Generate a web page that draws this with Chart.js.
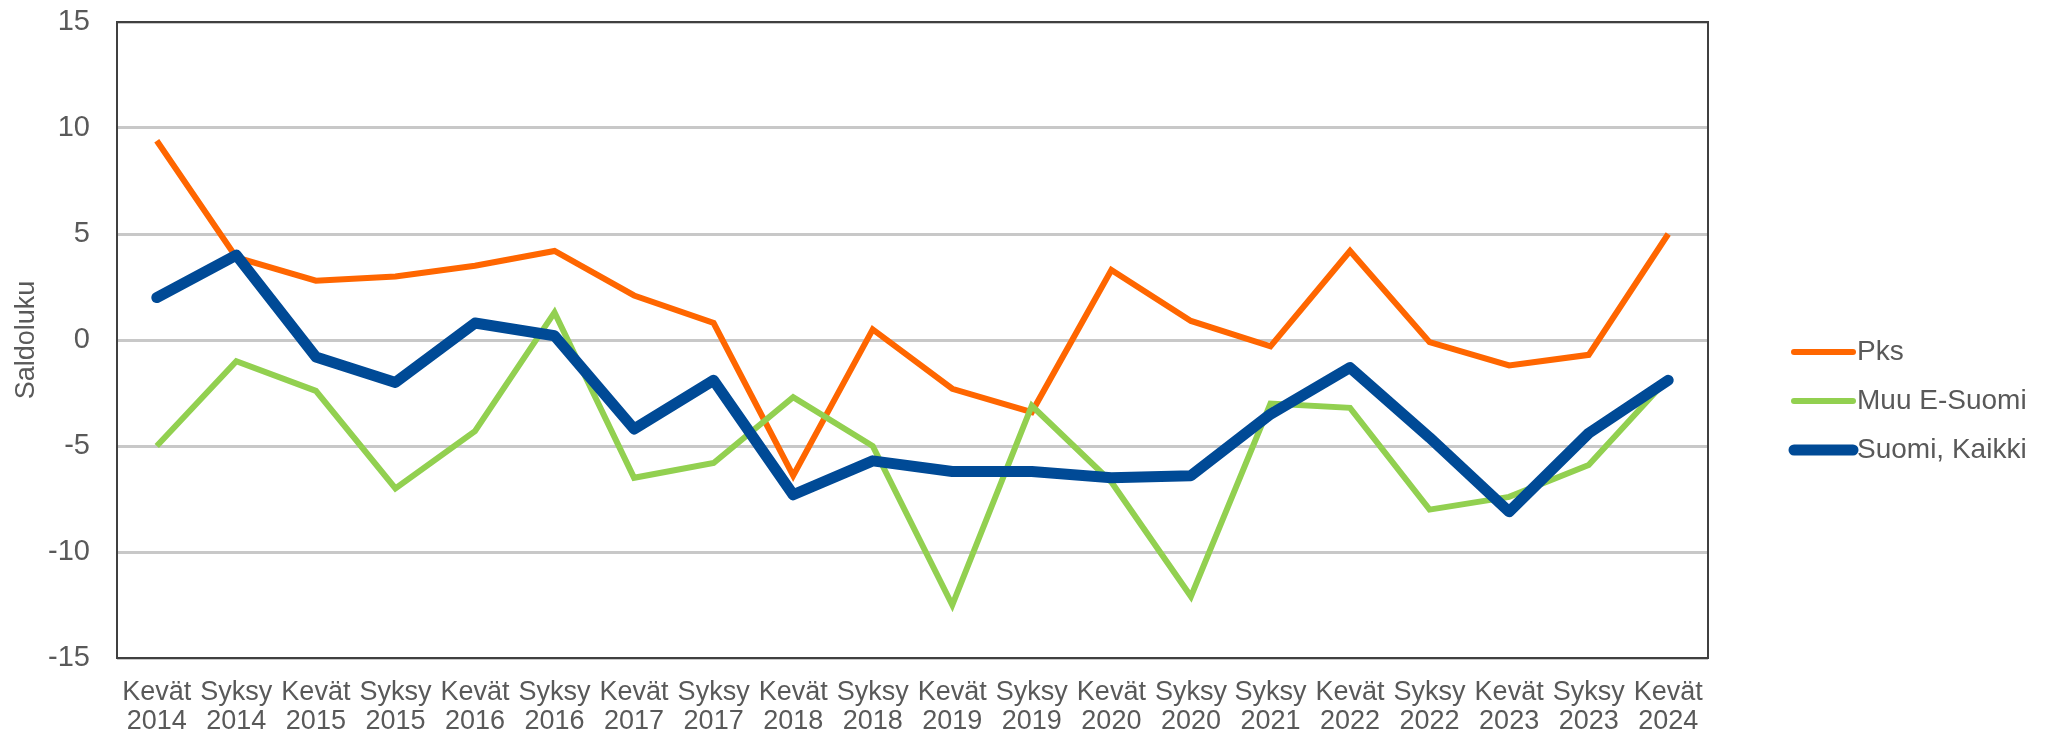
<!DOCTYPE html>
<html>
<head>
<meta charset="utf-8">
<script src="https://cdn.jsdelivr.net/npm/chart.js@4.4.1/dist/chart.umd.min.js"></script>
<style>
  body { margin: 0; background: #fff; }
  #wrap { width: 2048px; height: 738px; position: relative; }
</style>
</head>
<body>
<div id="wrap"><canvas id="lineChart"></canvas></div>
<script>
const seasons = ["Kevät", "Syksy", "Kevät", "Syksy", "Kevät", "Syksy", "Kevät", "Syksy", "Kevät", "Syksy",
                 "Kevät", "Syksy", "Kevät", "Syksy", "Syksy", "Kevät", "Syksy", "Kevät", "Syksy", "Kevät"];
const years = ["2014", "2014", "2015", "2015", "2016", "2016", "2017", "2017", "2018", "2018",
               "2019", "2019", "2020", "2020", "2021", "2022", "2022", "2023", "2023", "2024"];

const pks = [9.4, 3.9, 2.8, 3.0, 3.5, 4.2, 2.1, 0.8, -6.4, 0.5, -2.3, -3.4, 3.3, 0.9, -0.3, 4.2, -0.1, -1.2, -0.7, 5.0];
const muuESuomi = [-5.0, -1.0, -2.4, -7.0, -4.3, 1.3, -6.5, -5.8, -2.7, -5.0, -12.5, -3.1, -6.7, -12.1, -3.0, -3.2, -8.0, -7.4, -5.9, -1.8];
const suomiKaikki = [2.0, 4.0, -0.8, -2.0, 0.8, 0.2, -4.2, -1.9, -7.3, -5.7, -6.2, -6.2, -6.5, -6.4, -3.5, -1.3, -4.6, -8.1, -4.4, -1.9];

const yTicks = [-15, -10, -5, 0, 5, 10, 15];

const labels = seasons.map((s, i) => [s, years[i]]);
const textColor = "#595959";
const fontFamily = "'Liberation Sans', Arial, sans-serif";

// frame round the plot area + legend at the right
const frameAndLegend = {
    id: "frameAndLegend",
    afterDatasetsDraw(chart) {
        const ctx = chart.ctx;
        const a = chart.chartArea;
        ctx.save();
        ctx.strokeStyle = "#404040";
        ctx.lineWidth = 2;
        ctx.strokeRect(a.left, a.top, a.right - a.left, a.bottom - a.top);

        const x0 = 1794, x1 = 1853, yStart = 352, gap = 49;
        ctx.font = "28px " + fontFamily;
        ctx.textBaseline = "middle";
        ctx.textAlign = "left";
        chart.data.datasets.forEach((ds, i) => {
            const y = yStart + i * gap;
            ctx.beginPath();
            ctx.lineCap = "round";
            ctx.strokeStyle = ds.borderColor;
            ctx.lineWidth = ds.borderWidth;
            ctx.moveTo(x0, y);
            ctx.lineTo(x1, y);
            ctx.stroke();
            ctx.fillStyle = textColor;
            ctx.fillText(ds.label, x1 + 4, y);
        });
        ctx.restore();
    }
};

const lChart = document.getElementById("lineChart");

let lineChart = new Chart(lChart, {
    type: 'line',
    data: {
        labels: labels,
        datasets: [
            {
                label: "Pks",
                data: pks,
                borderColor: "#FF6600",
                borderWidth: 6,
                pointRadius: 0,
                tension: 0,
                order: 2
            },
            {
                label: "Muu E-Suomi",
                data: muuESuomi,
                borderColor: "#92D050",
                borderWidth: 6,
                pointRadius: 0,
                tension: 0,
                order: 1
            },
            {
                label: "Suomi, Kaikki",
                data: suomiKaikki,
                borderColor: "#004A96",
                borderWidth: 11,
                borderCapStyle: 'round',
                borderJoinStyle: 'round',
                pointRadius: 0,
                tension: 0,
                order: 0
            }
        ]
    },
    options: {
        responsive: true,
        maintainAspectRatio: false,
        animation: false,
        layout: { padding: { top: 22, right: 340, left: 0, bottom: 0 } },
        plugins: {
            legend: { display: false },
            tooltip: { enabled: false }
        },
        scales: {
            x: {
                offset: true,
                grid: { display: false, drawTicks: false, offset: true },
                border: { display: false },
                ticks: {
                    color: textColor,
                    font: { family: fontFamily, size: 27, lineHeight: "29px" },
                    padding: 20,
                    maxRotation: 0,
                    autoSkip: false
                },
                afterFit(scale) { scale.height = 80; }
            },
            y: {
                min: -15,
                max: 15,
                afterBuildTicks(scale) { scale.ticks = yTicks.map(v => ({ value: v })); },
                grid: { color: "#C8C8C8", lineWidth: 3, drawTicks: false },
                border: { display: false },
                ticks: {
                    color: textColor,
                    font: { family: fontFamily, size: 29 },
                    padding: 27
                },
                title: {
                    display: true,
                    text: "Saldoluku",
                    color: textColor,
                    font: { family: fontFamily, size: 27 },
                    padding: { top: 10, bottom: 0 }
                },
                afterFit(scale) {
                    scale.width = 117;
                    scale.paddingTop = 0;
                    scale.paddingBottom = 0;
                }
            }
        }
    },
    plugins: [frameAndLegend]
});
</script>
</body>
</html>
